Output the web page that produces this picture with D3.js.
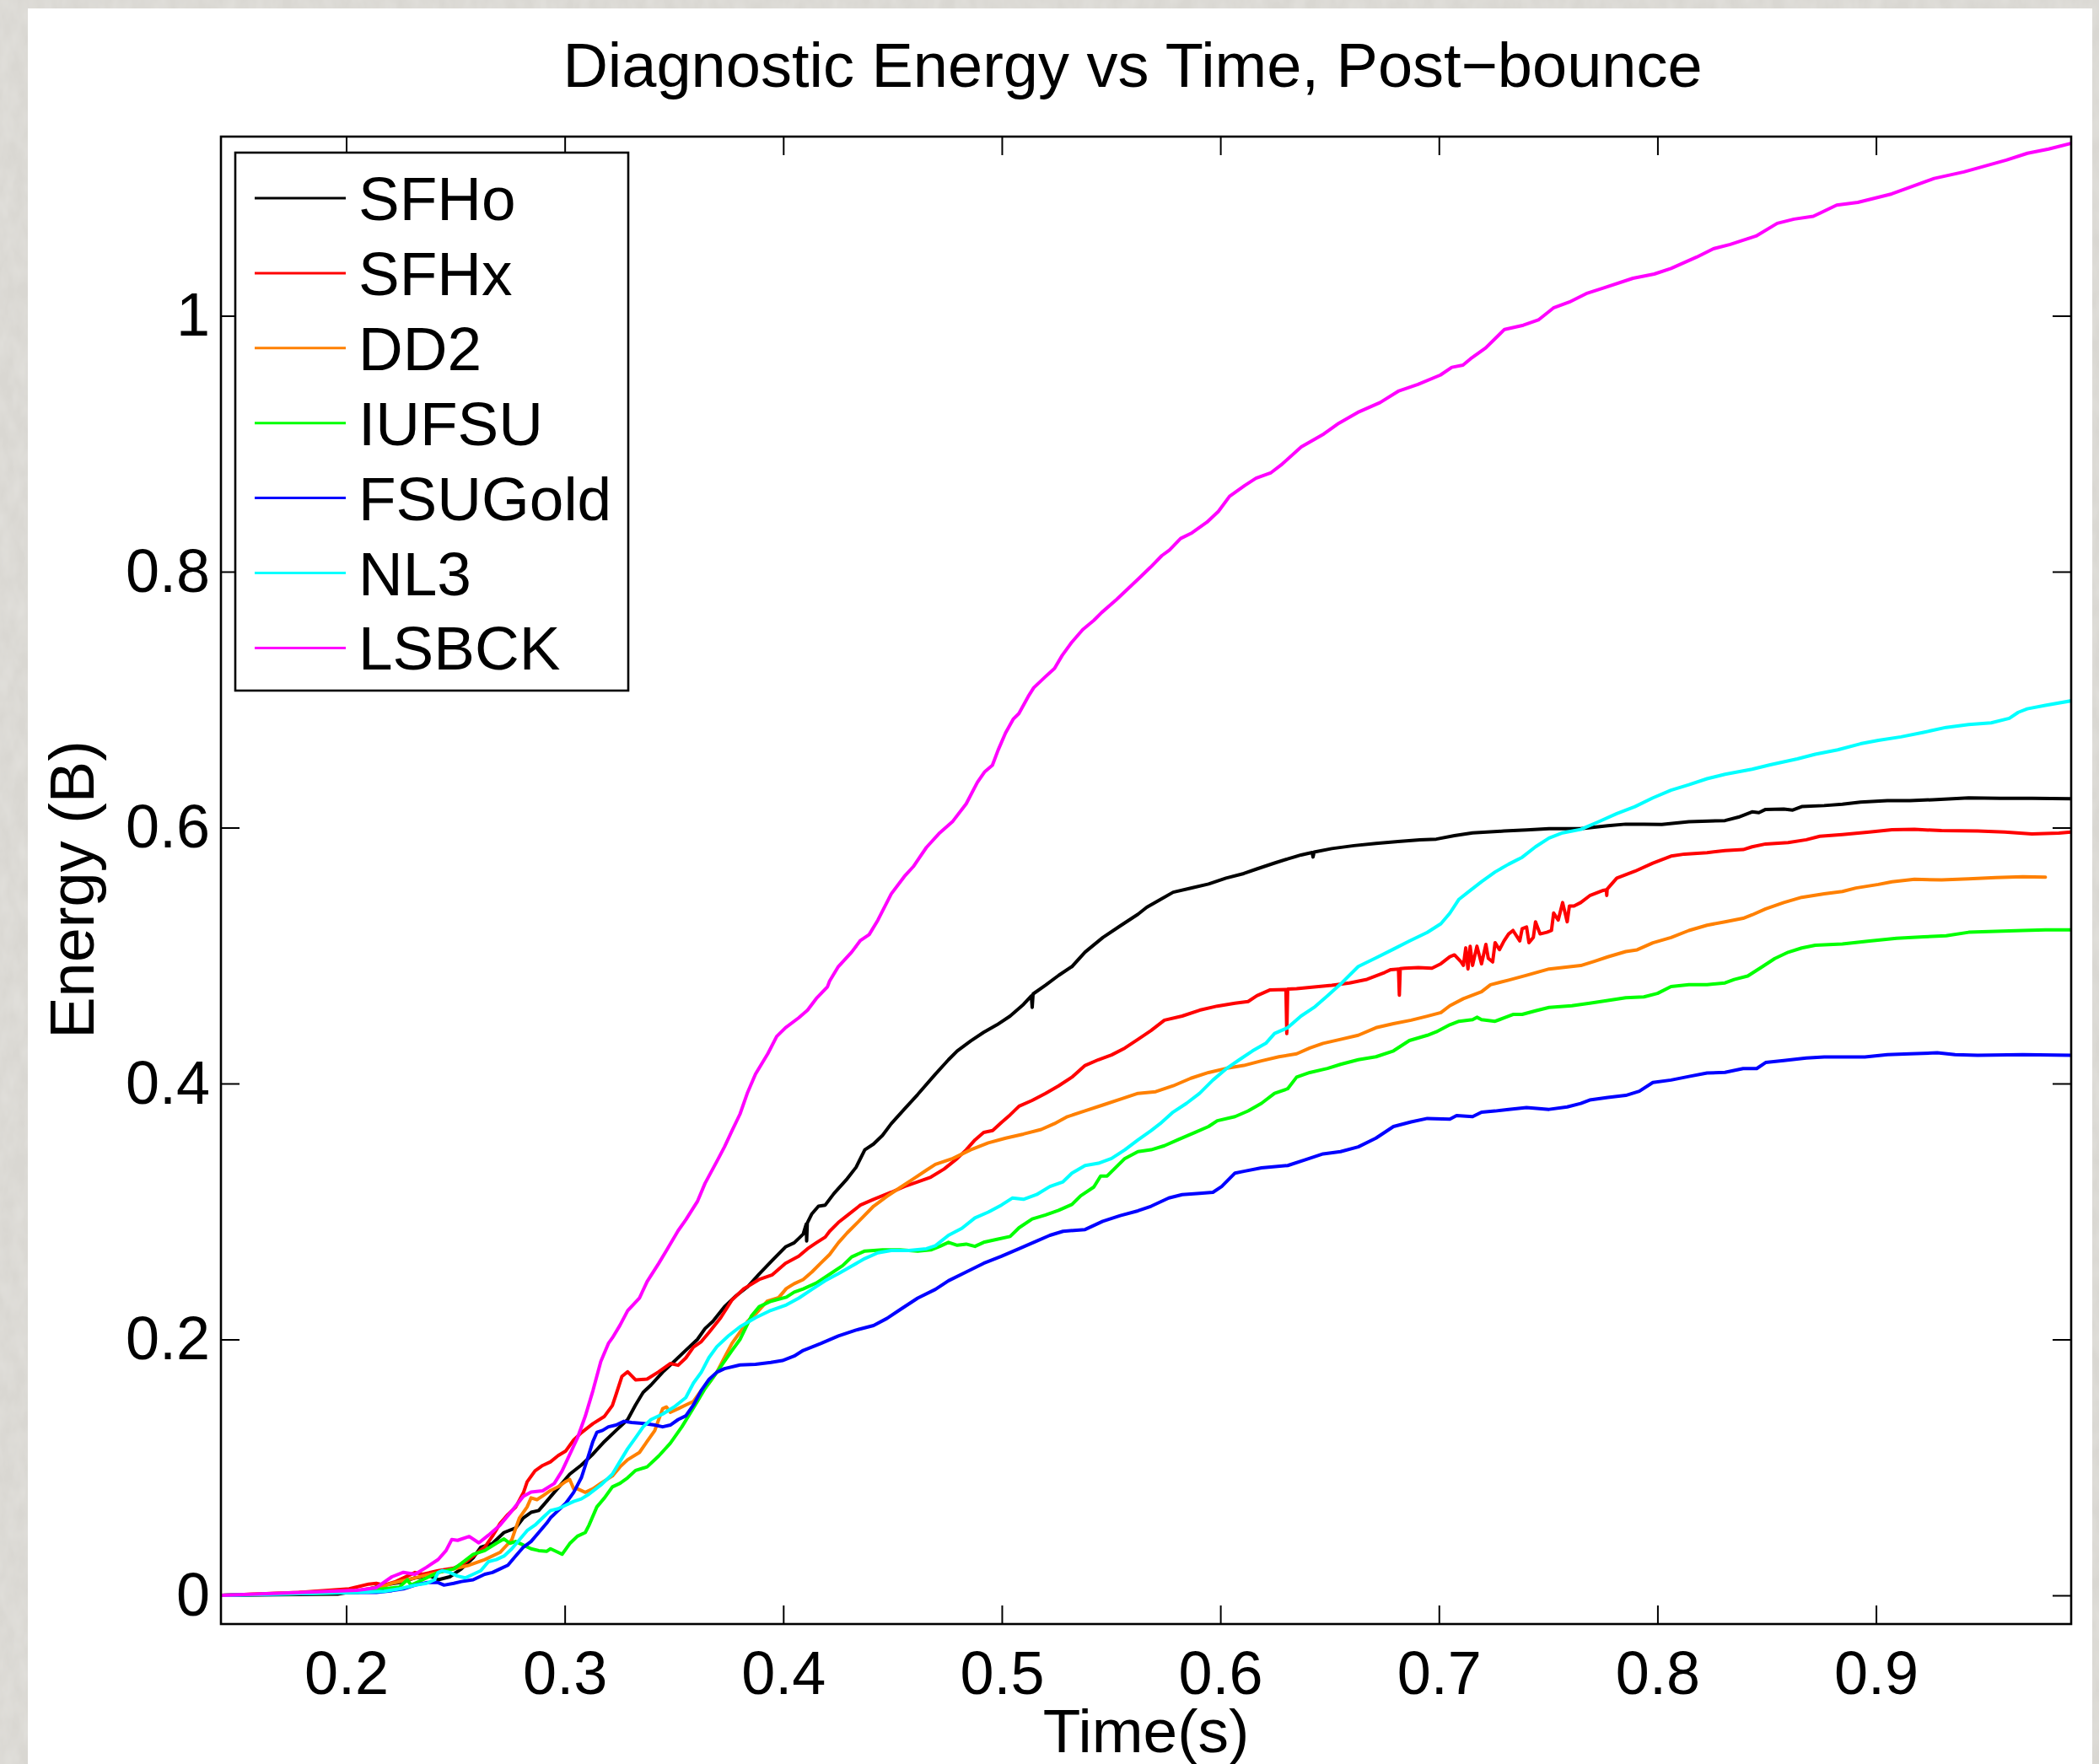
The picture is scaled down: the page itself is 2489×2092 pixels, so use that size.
<!DOCTYPE html>
<html>
<head>
<meta charset="utf-8">
<script src="https://cdn.jsdelivr.net/npm/d3@7"></script>
<style>
  body { margin: 0; background: #d7d5d0; }
  svg { display: block; font-family: "Liberation Sans", Arial, Helvetica, sans-serif; }
</style>
</head>
<body>
<div id="chart-area"></div>
<script>
/*
*    Diagnostic Energy vs Time, Post-bounce
*    one line per equation of state, [time (s), energy (B)]
*/

var sfho = [[0.143,0],[0.1961,0.001],[0.2103,0.005],[0.2173,0.008],[0.2244,0.010],[0.2315,0.0137],[0.2386,0.0151],[0.2421,0.0122],[0.2474,0.0145],[0.2527,0.0207],[0.2581,0.0293],[0.2616,0.0377],[0.2669,0.0405],[0.2722,0.0491],[0.2775,0.0526],[0.2811,0.0606],[0.2846,0.0649],[0.2881,0.0663],[0.2917,0.0734],[0.2952,0.0805],[0.2988,0.0876],[0.3023,0.0947],[0.3076,0.1018],[0.3129,0.1104],[0.3182,0.1203],[0.3235,0.1289],[0.3288,0.1374],[0.3324,0.1488],[0.3359,0.1587],[0.3395,0.1644],[0.3448,0.1744],[0.3501,0.1829],[0.3554,0.1915],[0.3607,0.2000],[0.3642,0.2085],[0.3678,0.2142],[0.3731,0.2256],[0.3784,0.2341],[0.3837,0.2412],[0.389,0.2512],[0.395,0.2618],[0.401,0.2723],[0.405,0.2755],[0.4091,0.2823],[0.4105,0.2900],[0.4107,0.2770],[0.4110,0.2910],[0.4131,0.2982],[0.4161,0.3041],[0.4192,0.3050],[0.4232,0.3141],[0.4292,0.3255],[0.4333,0.3345],[0.4373,0.3482],[0.4413,0.3527],[0.4454,0.3595],[0.4494,0.3686],[0.4554,0.3800],[0.4615,0.3914],[0.4696,0.4073],[0.4756,0.4186],[0.4796,0.4255],[0.4857,0.4332],[0.4917,0.4400],[0.4978,0.4459],[0.5038,0.4527],[0.5099,0.4618],[0.5135,0.4685],[0.5139,0.4595],[0.5143,0.4700],[0.52,0.4768],[0.526,0.4845],[0.5321,0.4914],[0.5381,0.5027],[0.5462,0.5141],[0.5542,0.5232],[0.5623,0.5323],[0.5663,0.5377],[0.5724,0.5436],[0.5784,0.5495],[0.5865,0.5527],[0.5946,0.5559],[0.6026,0.5605],[0.6107,0.5641],[0.6167,0.5677],[0.6248,0.5723],[0.6308,0.5755],[0.6369,0.5786],[0.6420,0.5805],[0.6424,0.5770],[0.6429,0.5809],[0.651,0.5836],[0.6611,0.5859],[0.6712,0.5877],[0.6813,0.5891],[0.6913,0.5905],[0.6988,0.5910],[0.7071,0.5937],[0.7154,0.5959],[0.7298,0.5973],[0.7401,0.5981],[0.7504,0.5992],[0.7649,0.5992],[0.7773,0.6014],[0.7855,0.6027],[0.7938,0.6027],[0.8020,0.6025],[0.8144,0.6046],[0.8309,0.6055],[0.8371,0.6082],[0.8433,0.6123],[0.8464,0.6117],[0.8495,0.6142],[0.8578,0.6145],[0.8619,0.6137],[0.8660,0.6164],[0.8763,0.6172],[0.8846,0.6183],[0.8929,0.6199],[0.9052,0.6210],[0.9156,0.6210],[0.9259,0.6218],[0.9424,0.6232],[0.9568,0.6229],[0.9713,0.6229],[0.9894,0.6226]];

var sfhx = [[0.143,0],[0.1784,0.0023],[0.2014,0.0051],[0.2103,0.0088],[0.2138,0.0094],[0.2173,0.008],[0.2227,0.0108],[0.228,0.0151],[0.2315,0.0179],[0.235,0.0165],[0.2421,0.0193],[0.2492,0.0213],[0.2527,0.0236],[0.2581,0.0307],[0.2634,0.0377],[0.2669,0.0462],[0.2704,0.0561],[0.274,0.0632],[0.2775,0.0688],[0.2811,0.0802],[0.2828,0.0887],[0.2864,0.0973],[0.2899,0.1015],[0.2935,0.1044],[0.297,0.1092],[0.3005,0.1129],[0.3041,0.1214],[0.3076,0.1271],[0.3129,0.1342],[0.3182,0.1399],[0.3218,0.1484],[0.3235,0.1570],[0.3262,0.1712],[0.3288,0.1747],[0.3324,0.1684],[0.3377,0.1690],[0.343,0.1747],[0.3483,0.1812],[0.3519,0.1798],[0.3554,0.1855],[0.3589,0.1940],[0.3625,0.1983],[0.366,0.2054],[0.3713,0.2168],[0.3766,0.2310],[0.3819,0.2395],[0.3889,0.2468],[0.395,0.2505],[0.401,0.2595],[0.4071,0.2650],[0.4111,0.2709],[0.4151,0.2755],[0.4192,0.2800],[0.4212,0.2845],[0.4252,0.2914],[0.4292,0.2968],[0.4353,0.3050],[0.4413,0.3095],[0.4494,0.3150],[0.4554,0.3195],[0.4615,0.3232],[0.4675,0.3268],[0.4736,0.3332],[0.4796,0.3414],[0.4837,0.3482],[0.4877,0.3559],[0.4917,0.3618],[0.4958,0.3632],[0.4998,0.3695],[0.5038,0.3755],[0.5079,0.3823],[0.5139,0.3868],[0.52,0.3923],[0.526,0.3982],[0.5321,0.4050],[0.5381,0.4141],[0.5442,0.4186],[0.5502,0.4223],[0.5563,0.4277],[0.5623,0.4345],[0.5683,0.4414],[0.5744,0.4495],[0.5825,0.4527],[0.5905,0.4573],[0.5986,0.4605],[0.6067,0.4627],[0.6127,0.4641],[0.6167,0.4686],[0.6228,0.4732],[0.6300,0.4735],[0.6304,0.4391],[0.6308,0.4738],[0.6349,0.4741],[0.6429,0.4755],[0.651,0.4768],[0.6591,0.4786],[0.6671,0.4814],[0.6752,0.4868],[0.6780,0.4890],[0.6815,0.4895],[0.6819,0.4690],[0.6823,0.4898],[0.6844,0.4901],[0.6906,0.4906],[0.6968,0.4901],[0.7009,0.4936],[0.7050,0.4991],[0.7071,0.5005],[0.7102,0.4950],[0.7112,0.4923],[0.7123,0.5060],[0.7133,0.4895],[0.7143,0.5073],[0.7154,0.4923],[0.7174,0.5073],[0.7195,0.4936],[0.7215,0.5087],[0.7226,0.4978],[0.7246,0.4950],[0.7257,0.5101],[0.7277,0.5046],[0.7298,0.5114],[0.7319,0.5169],[0.7339,0.5196],[0.7370,0.5114],[0.7381,0.5210],[0.7401,0.5223],[0.7412,0.5101],[0.7432,0.5142],[0.7442,0.5264],[0.7463,0.5169],[0.7494,0.5182],[0.7515,0.5196],[0.7525,0.5332],[0.7546,0.5278],[0.7566,0.5414],[0.7587,0.5264],[0.7597,0.5387],[0.7618,0.5387],[0.7649,0.5414],[0.7690,0.5468],[0.7752,0.5509],[0.7766,0.5515],[0.7768,0.5470],[0.7770,0.5520],[0.7814,0.5605],[0.7897,0.5659],[0.7979,0.5722],[0.8062,0.5777],[0.8124,0.5793],[0.8227,0.5804],[0.8309,0.5820],[0.8392,0.5828],[0.8433,0.5850],[0.8495,0.5872],[0.8598,0.5883],[0.8681,0.5905],[0.8743,0.5932],[0.8846,0.5946],[0.8970,0.5965],[0.9073,0.5984],[0.9176,0.5986],[0.9300,0.5976],[0.9465,0.5973],[0.9589,0.5965],[0.9713,0.5951],[0.9837,0.5957],[0.9894,0.5965]];

var dd2 = [[0.143,0],[0.205,0.0037],[0.2173,0.0071],[0.2209,0.0094],[0.228,0.0122],[0.235,0.0151],[0.2421,0.0179],[0.2492,0.0207],[0.2563,0.0236],[0.2634,0.0279],[0.2704,0.0336],[0.2758,0.0435],[0.2775,0.0520],[0.2793,0.0606],[0.2828,0.0691],[0.2846,0.0762],[0.2873,0.0748],[0.2899,0.0777],[0.2935,0.0819],[0.297,0.0848],[0.3005,0.0890],[0.3023,0.0905],[0.3041,0.0833],[0.3058,0.0833],[0.3094,0.0805],[0.3129,0.0833],[0.3165,0.0876],[0.3218,0.0933],[0.3253,0.1004],[0.3288,0.1060],[0.3342,0.1117],[0.3377,0.1203],[0.3412,0.1288],[0.3448,0.1459],[0.3465,0.1473],[0.3483,0.1431],[0.3519,0.1459],[0.3554,0.1488],[0.3589,0.1516],[0.3625,0.1602],[0.366,0.1659],[0.3696,0.1744],[0.3731,0.1858],[0.3766,0.1971],[0.3802,0.2057],[0.3837,0.2142],[0.3873,0.2199],[0.3926,0.2298],[0.3979,0.2327],[0.4014,0.2398],[0.405,0.2436],[0.4091,0.2468],[0.4131,0.2527],[0.4171,0.2595],[0.4212,0.2664],[0.4252,0.2755],[0.4292,0.2832],[0.4353,0.2936],[0.4413,0.3041],[0.4474,0.3118],[0.4534,0.3186],[0.4595,0.3255],[0.4655,0.3323],[0.4696,0.3368],[0.4776,0.3414],[0.4857,0.3482],[0.4938,0.3536],[0.5018,0.3573],[0.5099,0.3605],[0.518,0.3641],[0.524,0.3686],[0.53,0.3741],[0.5381,0.3786],[0.5462,0.3832],[0.5542,0.3877],[0.5623,0.3923],[0.5704,0.3936],[0.5784,0.3982],[0.5865,0.4041],[0.5946,0.4086],[0.6026,0.4118],[0.6107,0.4141],[0.6188,0.4177],[0.6268,0.4209],[0.6349,0.4232],[0.6409,0.4277],[0.647,0.4314],[0.655,0.4345],[0.6631,0.4377],[0.6712,0.4436],[0.6792,0.4468],[0.6873,0.4495],[0.6947,0.4526],[0.7009,0.4554],[0.7050,0.4608],[0.7112,0.4663],[0.7195,0.4717],[0.7236,0.4772],[0.7319,0.4808],[0.7401,0.4846],[0.7504,0.4895],[0.7649,0.4922],[0.7711,0.4955],[0.7773,0.4990],[0.7855,0.5031],[0.7907,0.5045],[0.7979,0.5100],[0.8062,0.5141],[0.8144,0.5196],[0.8227,0.5237],[0.8309,0.5264],[0.8392,0.5291],[0.8433,0.5318],[0.8495,0.5365],[0.8578,0.5414],[0.8660,0.5455],[0.8763,0.5482],[0.8846,0.5501],[0.8908,0.5528],[0.9011,0.5556],[0.9073,0.5577],[0.9176,0.5596],[0.9300,0.5591],[0.9424,0.5599],[0.9548,0.5610],[0.9672,0.5616],[0.9775,0.5613]];

var iufsu = [[0.143,0],[0.205,0.0023],[0.2173,0.0051],[0.2244,0.0065],[0.228,0.0122],[0.2297,0.0080],[0.235,0.0122],[0.2421,0.0179],[0.2492,0.0207],[0.2527,0.0250],[0.2581,0.0321],[0.2634,0.0350],[0.2687,0.0407],[0.2722,0.0441],[0.2749,0.0407],[0.2775,0.0421],[0.2811,0.0393],[0.2846,0.0364],[0.2881,0.0350],[0.2917,0.0344],[0.2935,0.0364],[0.297,0.0336],[0.2988,0.0321],[0.3023,0.0405],[0.3058,0.0462],[0.3094,0.0491],[0.3111,0.0548],[0.3147,0.0691],[0.3182,0.0762],[0.3218,0.0848],[0.3253,0.0876],[0.3288,0.0919],[0.3324,0.0976],[0.3377,0.1004],[0.343,0.1089],[0.3483,0.1189],[0.3536,0.1317],[0.3572,0.1417],[0.3607,0.1516],[0.3642,0.1616],[0.3696,0.1744],[0.3731,0.1829],[0.3766,0.1915],[0.3802,0.2000],[0.3855,0.2185],[0.3890,0.2256],[0.3943,0.2298],[0.4014,0.2330],[0.405,0.2370],[0.4091,0.2395],[0.4151,0.2441],[0.4212,0.2509],[0.4272,0.2577],[0.4313,0.2645],[0.4373,0.2691],[0.4454,0.2700],[0.4534,0.2700],[0.4615,0.2691],[0.4675,0.2700],[0.4716,0.2727],[0.4756,0.2759],[0.4796,0.2736],[0.4837,0.2745],[0.4877,0.2727],[0.4917,0.2759],[0.4978,0.2782],[0.5038,0.2805],[0.5079,0.2873],[0.5139,0.2941],[0.52,0.2973],[0.526,0.3009],[0.5321,0.3055],[0.5361,0.3123],[0.5421,0.3191],[0.5452,0.3277],[0.5482,0.3277],[0.5522,0.3345],[0.5563,0.3414],[0.5623,0.3468],[0.5683,0.3482],[0.5744,0.3514],[0.5804,0.3559],[0.5885,0.3618],[0.5946,0.3664],[0.5986,0.3709],[0.6067,0.3741],[0.6127,0.3786],[0.6188,0.3845],[0.6248,0.3923],[0.6308,0.3959],[0.6349,0.4050],[0.6409,0.4086],[0.649,0.4118],[0.655,0.4150],[0.6631,0.4186],[0.6712,0.4209],[0.6792,0.4255],[0.6865,0.4336],[0.6947,0.4377],[0.6988,0.4404],[0.7050,0.4459],[0.7092,0.4486],[0.7154,0.4499],[0.7174,0.4518],[0.7195,0.4499],[0.7257,0.4486],[0.7298,0.4513],[0.7339,0.4540],[0.7381,0.4540],[0.7442,0.4568],[0.7504,0.4595],[0.7608,0.4608],[0.7690,0.4627],[0.7773,0.4649],[0.7855,0.4671],[0.7938,0.4677],[0.8000,0.4704],[0.8062,0.4758],[0.8144,0.4772],[0.8227,0.4772],[0.8309,0.4786],[0.8351,0.4813],[0.8413,0.4840],[0.8475,0.4908],[0.8537,0.4977],[0.8598,0.5026],[0.8660,0.5059],[0.8722,0.5081],[0.8846,0.5091],[0.8970,0.5113],[0.9094,0.5135],[0.9218,0.5146],[0.9321,0.5155],[0.9424,0.5182],[0.9548,0.5190],[0.9672,0.5196],[0.9775,0.5201],[0.9894,0.5201]];

var fsugold = [[0.143,0],[0.1961,0.0023],[0.2138,0.0023],[0.2209,0.0037],[0.2262,0.0051],[0.2315,0.0080],[0.2368,0.0100],[0.2421,0.0100],[0.2448,0.0080],[0.2492,0.0094],[0.2527,0.0108],[0.2581,0.0122],[0.2634,0.0165],[0.2669,0.0179],[0.2704,0.0207],[0.274,0.0236],[0.2775,0.0307],[0.2811,0.0377],[0.2846,0.0421],[0.2881,0.0491],[0.2917,0.0563],[0.2935,0.0606],[0.297,0.0663],[0.3005,0.0720],[0.3041,0.0805],[0.3076,0.0919],[0.3103,0.1061],[0.3129,0.1203],[0.3147,0.1274],[0.3173,0.1289],[0.32,0.1317],[0.3235,0.1331],[0.3271,0.1360],[0.3306,0.1351],[0.3342,0.1346],[0.3377,0.1340],[0.3412,0.1331],[0.3448,0.1317],[0.3483,0.1331],[0.3519,0.1374],[0.3554,0.1403],[0.3589,0.1488],[0.3625,0.1602],[0.366,0.1687],[0.3696,0.1744],[0.3731,0.1772],[0.3802,0.1801],[0.3873,0.1805],[0.3943,0.1820],[0.3996,0.1835],[0.405,0.1870],[0.4091,0.1914],[0.4171,0.1968],[0.4252,0.2027],[0.4333,0.2073],[0.4413,0.2109],[0.4474,0.2164],[0.4534,0.2232],[0.4615,0.2323],[0.4696,0.2391],[0.4756,0.2459],[0.4837,0.2527],[0.4917,0.2595],[0.4998,0.2650],[0.5079,0.2709],[0.5159,0.2768],[0.522,0.2814],[0.528,0.2845],[0.5381,0.2859],[0.5462,0.2923],[0.5542,0.2968],[0.5623,0.3005],[0.5683,0.3041],[0.5764,0.3105],[0.5825,0.3132],[0.5905,0.3141],[0.5966,0.3150],[0.6006,0.3195],[0.6067,0.3300],[0.6107,0.3314],[0.6188,0.3341],[0.6308,0.3359],[0.6389,0.3405],[0.647,0.3450],[0.655,0.3468],[0.6631,0.3505],[0.6712,0.3573],[0.6792,0.3664],[0.6873,0.3700],[0.6947,0.3727],[0.7050,0.3722],[0.7081,0.3749],[0.7154,0.3741],[0.7195,0.3776],[0.7257,0.3785],[0.7319,0.3798],[0.7401,0.3812],[0.7504,0.3798],[0.7587,0.3817],[0.7649,0.3844],[0.7690,0.3871],[0.7773,0.3891],[0.7855,0.3907],[0.7917,0.3940],[0.7979,0.4008],[0.8062,0.4027],[0.8144,0.4055],[0.8227,0.4082],[0.8309,0.4087],[0.8392,0.4117],[0.8454,0.4117],[0.8495,0.4164],[0.8578,0.4180],[0.8681,0.4199],[0.8763,0.4207],[0.8949,0.4207],[0.9052,0.4226],[0.9156,0.4232],[0.9280,0.4240],[0.9362,0.4226],[0.9465,0.4221],[0.9672,0.4226],[0.9894,0.4221]];

var nl3 = [[0.143,0],[0.205,0.0023],[0.2173,0.0031],[0.2244,0.0051],[0.2315,0.0080],[0.2368,0.0094],[0.2404,0.0122],[0.2421,0.0179],[0.2439,0.0193],[0.2474,0.0179],[0.251,0.0151],[0.2545,0.0137],[0.2581,0.0165],[0.2616,0.0193],[0.2651,0.0264],[0.2687,0.0279],[0.2722,0.0307],[0.2758,0.0364],[0.2793,0.0435],[0.2828,0.0506],[0.2864,0.0549],[0.2899,0.0606],[0.2935,0.0663],[0.297,0.0677],[0.3005,0.0705],[0.3041,0.0734],[0.3076,0.0754],[0.3111,0.0791],[0.3165,0.0862],[0.3218,0.0947],[0.3253,0.1047],[0.3288,0.1146],[0.3324,0.1232],[0.3359,0.1317],[0.3395,0.1374],[0.3448,0.1417],[0.3501,0.1473],[0.3554,0.1545],[0.3589,0.1659],[0.3625,0.1744],[0.366,0.1858],[0.3696,0.1943],[0.3749,0.2028],[0.3802,0.2099],[0.3873,0.2170],[0.3943,0.2227],[0.4014,0.2270],[0.4071,0.2323],[0.4131,0.2391],[0.4192,0.2459],[0.4252,0.2514],[0.4313,0.2573],[0.4373,0.2632],[0.4433,0.2677],[0.4494,0.2695],[0.4575,0.2695],[0.4655,0.2709],[0.4696,0.2732],[0.4756,0.2814],[0.4817,0.2868],[0.4877,0.2950],[0.4938,0.2995],[0.4998,0.3050],[0.5048,0.3105],[0.5099,0.3095],[0.5159,0.3132],[0.522,0.3195],[0.528,0.3232],[0.5321,0.3300],[0.5381,0.3359],[0.5442,0.3377],[0.5502,0.3414],[0.5563,0.3482],[0.5623,0.3559],[0.5683,0.3632],[0.5724,0.3686],[0.5784,0.3777],[0.5845,0.3845],[0.5905,0.3923],[0.5966,0.4027],[0.6026,0.4114],[0.6087,0.4186],[0.6147,0.4255],[0.6208,0.4314],[0.6248,0.4391],[0.6308,0.4436],[0.6369,0.4527],[0.6429,0.4595],[0.649,0.4686],[0.655,0.4777],[0.6631,0.4914],[0.6712,0.4982],[0.6792,0.5050],[0.6865,0.5113],[0.6947,0.5181],[0.7009,0.5249],[0.7050,0.5331],[0.7092,0.5440],[0.7133,0.5495],[0.7195,0.5577],[0.7257,0.5653],[0.7319,0.5714],[0.7381,0.5768],[0.7442,0.5850],[0.7504,0.5918],[0.7566,0.5959],[0.7649,0.5986],[0.7731,0.6046],[0.7814,0.6109],[0.7897,0.6164],[0.7979,0.6232],[0.8062,0.6292],[0.8144,0.6335],[0.8227,0.6382],[0.8309,0.6417],[0.8433,0.6456],[0.8516,0.6491],[0.8640,0.6537],[0.8722,0.6573],[0.8825,0.6608],[0.8929,0.6655],[0.9011,0.6682],[0.9114,0.6709],[0.9218,0.6745],[0.9321,0.6783],[0.9424,0.6805],[0.9527,0.6819],[0.9610,0.6854],[0.9651,0.6901],[0.9692,0.6928],[0.9775,0.6955],[0.9894,0.6991]];

var lsbck = [[0.143,0],[0.205,0.004],[0.2138,0.006],[0.2209,0.0145],[0.2262,0.018],[0.2315,0.0165],[0.2368,0.022],[0.2421,0.028],[0.2457,0.035],[0.2483,0.0436],[0.251,0.043],[0.2563,0.046],[0.2607,0.041],[0.2651,0.047],[0.2704,0.0549],[0.2758,0.066],[0.2811,0.0774],[0.2846,0.0808],[0.2899,0.0817],[0.2952,0.0874],[0.2988,0.0973],[0.3023,0.1101],[0.3058,0.1229],[0.3094,0.1400],[0.3129,0.1599],[0.3165,0.1827],[0.32,0.1969],[0.3218,0.2012],[0.3253,0.2111],[0.3288,0.2225],[0.3342,0.2324],[0.3377,0.2452],[0.343,0.2594],[0.3465,0.2694],[0.3519,0.285],[0.3554,0.2935],[0.3607,0.3078],[0.3642,0.3220],[0.3696,0.3391],[0.3731,0.3505],[0.3766,0.3633],[0.3802,0.3761],[0.3837,0.3931],[0.3873,0.4074],[0.3929,0.4232],[0.397,0.4368],[0.401,0.4436],[0.4071,0.4514],[0.4111,0.4573],[0.4151,0.4664],[0.4202,0.4755],[0.4212,0.48],[0.4252,0.4914],[0.4313,0.5027],[0.4353,0.5118],[0.4393,0.5164],[0.4433,0.5277],[0.4494,0.5482],[0.4554,0.5618],[0.4595,0.5695],[0.4655,0.5845],[0.4716,0.5959],[0.4776,0.605],[0.4837,0.6186],[0.4888,0.6353],[0.4922,0.6437],[0.4957,0.6487],[0.4983,0.6605],[0.5017,0.6740],[0.5052,0.6847],[0.5078,0.6891],[0.5121,0.7025],[0.5146,0.7093],[0.5198,0.7177],[0.5241,0.7244],[0.5276,0.7345],[0.5319,0.7446],[0.5370,0.7547],[0.5422,0.7621],[0.5457,0.7681],[0.5525,0.7782],[0.5577,0.7866],[0.5629,0.7950],[0.5680,0.8034],[0.5732,0.8125],[0.5767,0.8169],[0.5818,0.8259],[0.5870,0.8303],[0.5939,0.8387],[0.5991,0.8471],[0.6042,0.8589],[0.6111,0.8673],[0.6163,0.8730],[0.6232,0.8774],[0.6283,0.8841],[0.6370,0.8975],[0.6473,0.9076],[0.6542,0.9160],[0.6628,0.9244],[0.6731,0.9322],[0.6817,0.9413],[0.6904,0.9463],[0.7007,0.9537],[0.7059,0.9597],[0.7110,0.9614],[0.7145,0.9664],[0.7214,0.9748],[0.7300,0.9893],[0.7386,0.9926],[0.7455,0.9967],[0.7524,1.0061],[0.7597,1.0107],[0.7674,1.0173],[0.7752,1.0216],[0.7888,1.0293],[0.7985,1.0326],[0.8062,1.037],[0.8179,1.0458],[0.8256,1.0524],[0.8333,1.0557],[0.8451,1.0623],[0.8548,1.0722],[0.8625,1.0755],[0.8713,1.0777],[0.882,1.0865],[0.8917,1.0886],[0.9072,1.0952],[0.9266,1.1073],[0.9402,1.1124],[0.9596,1.1216],[0.9693,1.127],[0.979,1.1303],[0.9894,1.1348]];

var seriesNames = ["SFHo", "SFHx", "DD2", "IUFSU", "FSUGold", "NL3", "LSBCK"];
var seriesData = [sfho, sfhx, dd2, iufsu, fsugold, nl3, lsbck];
var xTicks = [0.2, 0.3, 0.4, 0.5, 0.6, 0.7, 0.8, 0.9];
var yTicks = [0, 0.2, 0.4, 0.6, 0.8, 1];

// MATLAB line colours, in plot order
var colors = ["#000000", "#ff0000", "#ff8000", "#00ff00", "#0000ff", "#00ffff", "#ff00ff"];

var W = 2489, H = 2092;
var margin = { left: 262, right: 33, top: 162, bottom: 166 },
    width = W - margin.left - margin.right,
    height = H - margin.top - margin.bottom;

var svg = d3.select("#chart-area").append("svg")
    .attr("width", W)
    .attr("height", H);

// paper-like grey backdrop with a white sheet on top
var defs = svg.append("defs");
var paper = defs.append("filter").attr("id", "paper")
    .attr("x", 0).attr("y", 0).attr("width", "100%").attr("height", "100%");
paper.append("feTurbulence")
    .attr("type", "fractalNoise")
    .attr("baseFrequency", "0.06 0.03")
    .attr("numOctaves", 3)
    .attr("seed", 7);
paper.append("feColorMatrix")
    .attr("type", "matrix")
    .attr("values", "0 0 0 0 0.80  0 0 0 0 0.79  0 0 0 0 0.76  0.9 0 0 0 -0.25");

svg.append("rect").attr("width", W).attr("height", H).attr("fill", "#d9d7d2");
svg.append("rect").attr("width", W).attr("height", H).attr("filter", "url(#paper)");
svg.append("rect")
    .attr("x", 33).attr("y", 10)
    .attr("width", 2481 - 33).attr("height", H - 10)
    .attr("fill", "#ffffff");

defs.append("clipPath").attr("id", "plot-clip")
    .append("rect").attr("width", width).attr("height", height);

var g = svg.append("g")
    .attr("transform", "translate(" + margin.left + ", " + margin.top + ")");

// Scales
var x = d3.scaleLinear().domain([0.1427, 0.9893]).range([0, width]);
var y = d3.scaleLinear().domain([-0.0224, 1.14]).range([height, 0]);

var fmt = d3.format("~g");
var tickLen = 22;

// Axis generators (ticks point inward on all four sides)
var xAxisCall = d3.axisBottom(x).tickValues(xTicks).tickFormat(fmt)
    .tickSizeInner(-tickLen).tickSizeOuter(0).tickPadding(32);
var xTopCall = d3.axisTop(x).tickValues(xTicks).tickFormat("")
    .tickSizeInner(-tickLen).tickSizeOuter(0);
var yAxisCall = d3.axisLeft(y).tickValues(yTicks).tickFormat(fmt)
    .tickSizeInner(-tickLen).tickSizeOuter(0).tickPadding(13);
var yRightCall = d3.axisRight(y).tickValues(yTicks).tickFormat("")
    .tickSizeInner(-tickLen).tickSizeOuter(0);

var xAxis = g.append("g").attr("class", "x axis")
    .attr("transform", "translate(0," + height + ")").call(xAxisCall);
g.append("g").attr("class", "x axis top").call(xTopCall);
var yAxis = g.append("g").attr("class", "y axis").call(yAxisCall);
g.append("g").attr("class", "y axis right")
    .attr("transform", "translate(" + width + ",0)").call(yRightCall);

g.selectAll(".axis .domain").remove();
g.selectAll(".axis line").attr("stroke", "#000").attr("stroke-width", 2);
g.selectAll(".axis text")
    .attr("fill", "#000")
    .style("font-size", "72px")
    .style("font-family", "'Liberation Sans', Arial, sans-serif");

// Lines
var line = d3.line()
    .x(function(d) { return x(d[0]); })
    .y(function(d) { return y(d[1]); });

g.append("g").attr("clip-path", "url(#plot-clip)")
    .selectAll("path")
    .data(seriesData)
    .enter().append("path")
    .attr("fill", "none")
    .attr("stroke", function(d, i) { return colors[i]; })
    .attr("stroke-width", 4)
    .attr("stroke-linejoin", "round")
    .attr("stroke-linecap", "round")
    .attr("d", line);

// Box round the plot
g.append("rect")
    .attr("width", width).attr("height", height)
    .attr("fill", "none")
    .attr("stroke", "#000")
    .attr("stroke-width", 2.6);

// Title and axis labels
svg.append("text")
    .attr("x", 1343).attr("y", 103)
    .attr("text-anchor", "middle")
    .style("font-size", "74px")
    .text("Diagnostic Energy vs Time, Post\u2212bounce");

svg.append("text")
    .attr("x", margin.left + width / 2).attr("y", 2078)
    .attr("text-anchor", "middle")
    .style("font-size", "73px")
    .text("Time(s)");

svg.append("text")
    .attr("transform", "translate(111,1055) rotate(-90)")
    .attr("text-anchor", "middle")
    .style("font-size", "74px")
    .text("Energy (B)");

// Legend
var legend = svg.append("g")
    .attr("transform", "translate(279,181)");

legend.append("rect")
    .attr("width", 466).attr("height", 638)
    .attr("fill", "#fff")
    .attr("stroke", "#000")
    .attr("stroke-width", 2.6);

var rows = legend.selectAll(".legend-row")
    .data(seriesNames)
    .enter().append("g")
    .attr("class", "legend-row")
    .attr("transform", function(d, i) { return "translate(0," + (54 + i * 88.9) + ")"; });

rows.append("line")
    .attr("x1", 23).attr("x2", 131)
    .attr("stroke", function(d, i) { return colors[i]; })
    .attr("stroke-width", 3);

rows.append("text")
    .attr("x", 146).attr("y", 26)
    .style("font-size", "73px")
    .text(function(d) { return d; });
</script>
</body>
</html>
